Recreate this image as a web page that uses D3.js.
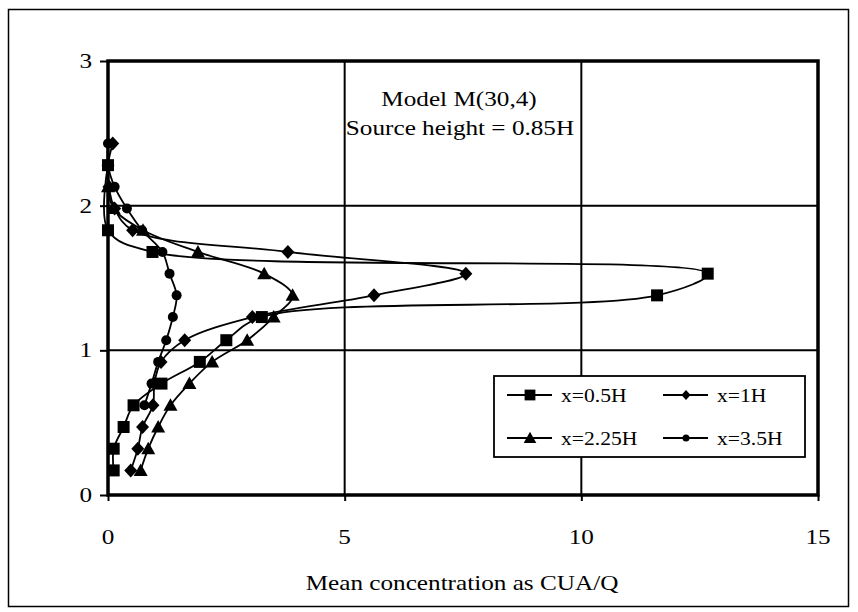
<!DOCTYPE html>
<html>
<head>
<meta charset="utf-8">
<script src="https://cdn.jsdelivr.net/npm/d3@7"></script>
<style>
  html, body { margin: 0; padding: 0; background: #fff; }
  svg { display: block; }
  text { font-family: "Liberation Serif", "Times New Roman", serif; fill: #000; }
</style>
</head>
<body>
<svg id="chart" width="858" height="612"></svg>
<script>
// Concentration profiles: [mean concentration CUA/Q, height z/H]
const seriesNames = ["x=0.5H", "x=1H", "x=2.25H", "x=3.5H"];
const seriesShapes = ["square", "diamond", "triangle", "circle"];

const profile05H = [
  [0.12, 0.17], [0.12, 0.32], [0.33, 0.47], [0.54, 0.62], [1.13, 0.77],
  [1.94, 0.92], [2.50, 1.07], [3.25, 1.23], [11.6, 1.38], [12.67, 1.53],
  [0.94, 1.68], [0.00, 1.83], [0.00, 2.28]
];
const profile1H = [
  [0.48, 0.17], [0.63, 0.32], [0.73, 0.47], [0.95, 0.62], [0.98, 0.77],
  [1.12, 0.92], [1.62, 1.07], [3.05, 1.23], [5.62, 1.38], [7.56, 1.53],
  [3.80, 1.68], [0.52, 1.83], [0.14, 1.98], [0.02, 2.13], [0.00, 2.28],
  [0.10, 2.43]
];
const profile225H = [
  [0.69, 0.17], [0.85, 0.32], [1.06, 0.47], [1.32, 0.62], [1.72, 0.77],
  [2.20, 0.92], [2.94, 1.07], [3.50, 1.23], [3.90, 1.38], [3.30, 1.53],
  [1.90, 1.68], [0.74, 1.83], [0.12, 1.98], [0.00, 2.13]
];
const profile35H = [
  [0.77, 0.62], [0.92, 0.77], [1.06, 0.92], [1.23, 1.07], [1.37, 1.23],
  [1.45, 1.38], [1.30, 1.53], [1.15, 1.68], [0.72, 1.83], [0.40, 1.98],
  [0.14, 2.13], [0.00, 2.28], [0.00, 2.43]
];
const profiles = [profile05H, profile1H, profile225H, profile35H];

const xTicks = [0, 5, 10, 15];
const yTicks = [0, 1, 2, 3];
const xTitle = "Mean concentration as CUA/Q";
const noteLines = ["Model M(30,4)", "Source height = 0.85H"];

const svg = d3.select("#chart");
const plot = { left: 108, top: 61, right: 818, bottom: 495 };
const stretch = 1.2;

const x = d3.scaleLinear().domain([0, 15]).range([plot.left, plot.right]);
const y = d3.scaleLinear().domain([0, 3]).range([plot.bottom, plot.top]);

// outer frame
svg.append("rect")
  .attr("x", 8.5).attr("y", 9.5).attr("width", 840).attr("height", 597)
  .attr("fill", "none").attr("stroke", "#000").attr("stroke-width", 1.5);

function label(g, str, px, py, size, anchor) {
  return g.append("text")
    .attr("transform", `translate(${px},${py}) scale(${stretch},1)`)
    .attr("text-anchor", anchor)
    .style("font-size", size + "px")
    .text(str);
}

// gridlines
const grid = svg.append("g").attr("stroke", "#000").attr("stroke-width", 2);
grid.selectAll(".gx").data(xTicks.slice(1, -1)).join("line")
  .attr("x1", d => x(d)).attr("x2", d => x(d))
  .attr("y1", plot.top).attr("y2", plot.bottom);
grid.selectAll(".gy").data(yTicks.slice(1, -1)).join("line")
  .attr("y1", d => y(d)).attr("y2", d => y(d))
  .attr("x1", plot.left).attr("x2", plot.right);

// axes (ticks only; labels drawn separately with stretched serif text)
const xAxis = svg.append("g")
  .attr("transform", `translate(0,${plot.bottom})`)
  .call(d3.axisBottom(x).tickValues(xTicks).tickSize(6).tickFormat(""));
const yAxis = svg.append("g")
  .attr("transform", `translate(${plot.left},0)`)
  .call(d3.axisLeft(y).tickValues(yTicks).tickSize(8).tickFormat(""));
[xAxis, yAxis].forEach(a => {
  a.select(".domain").remove();
  a.selectAll(".tick line").attr("stroke", "#000").attr("stroke-width", 2);
});

// plot frame
svg.append("rect")
  .attr("x", plot.left).attr("y", plot.top)
  .attr("width", plot.right - plot.left).attr("height", plot.bottom - plot.top)
  .attr("fill", "none").attr("stroke", "#000").attr("stroke-width", 3.5);

// tick labels
const labels = svg.append("g");
xTicks.forEach(t => label(labels, String(t), x(t), 544, 21, "middle"));
yTicks.forEach(t => label(labels, String(t), 92, y(t) + 7, 21, "end"));
label(labels, xTitle, 462, 590, 21, "middle");

// note
label(labels, noteLines[0], 459, 106, 21, "middle");
label(labels, noteLines[1], 460, 135, 21, "middle");

// marker shapes
function markerPath(shape) {
  switch (shape) {
    case "square": return "M-6,-6H6V6H-6Z";
    case "diamond": return "M0,-7L6.5,0L0,7L-6.5,0Z";
    case "triangle": return "M0,-7L7,5.5L-7,5.5Z";
    default: return d3.arc()({ innerRadius: 0, outerRadius: 5, startAngle: 0, endAngle: 2 * Math.PI });
  }
}

// smoothed profile lines
const line = d3.line()
  .x(d => x(d[0])).y(d => y(d[1]))
  .curve(d3.curveCatmullRom.alpha(0.5));

profiles.forEach((data, i) => {
  const g = svg.append("g");
  g.append("path").datum(data)
    .attr("d", line)
    .attr("fill", "none").attr("stroke", "#000").attr("stroke-width", 1.8)
    .attr("stroke-linejoin", "round");
  g.selectAll("path.m").data(data).join("path")
    .attr("class", "m")
    .attr("transform", d => `translate(${x(d[0])},${y(d[1])})`)
    .attr("d", markerPath(seriesShapes[i]))
    .attr("fill", "#000");
});

// legend
const lg = svg.append("g");
lg.append("rect")
  .attr("x", 494).attr("y", 376).attr("width", 311).attr("height", 81)
  .attr("fill", "#fff").attr("stroke", "#000").attr("stroke-width", 1.8);
const legendPos = [
  { lx: 507, ty: 395 }, { lx: 663, ty: 395 },
  { lx: 507, ty: 438 }, { lx: 663, ty: 438 }
];
seriesNames.forEach((name, i) => {
  const p = legendPos[i];
  lg.append("line")
    .attr("x1", p.lx).attr("x2", p.lx + 45)
    .attr("y1", p.ty).attr("y2", p.ty)
    .attr("stroke", "#000").attr("stroke-width", 1.8);
  lg.append("path")
    .attr("transform", `translate(${p.lx + 23},${p.ty}) scale(${i % 2 ? 0.7 : 0.9})`)
    .attr("d", markerPath(seriesShapes[i]))
    .attr("fill", "#000");
  label(lg, name, p.lx + 54, p.ty + 7, 18, "start");
});
</script>
</body>
</html>
